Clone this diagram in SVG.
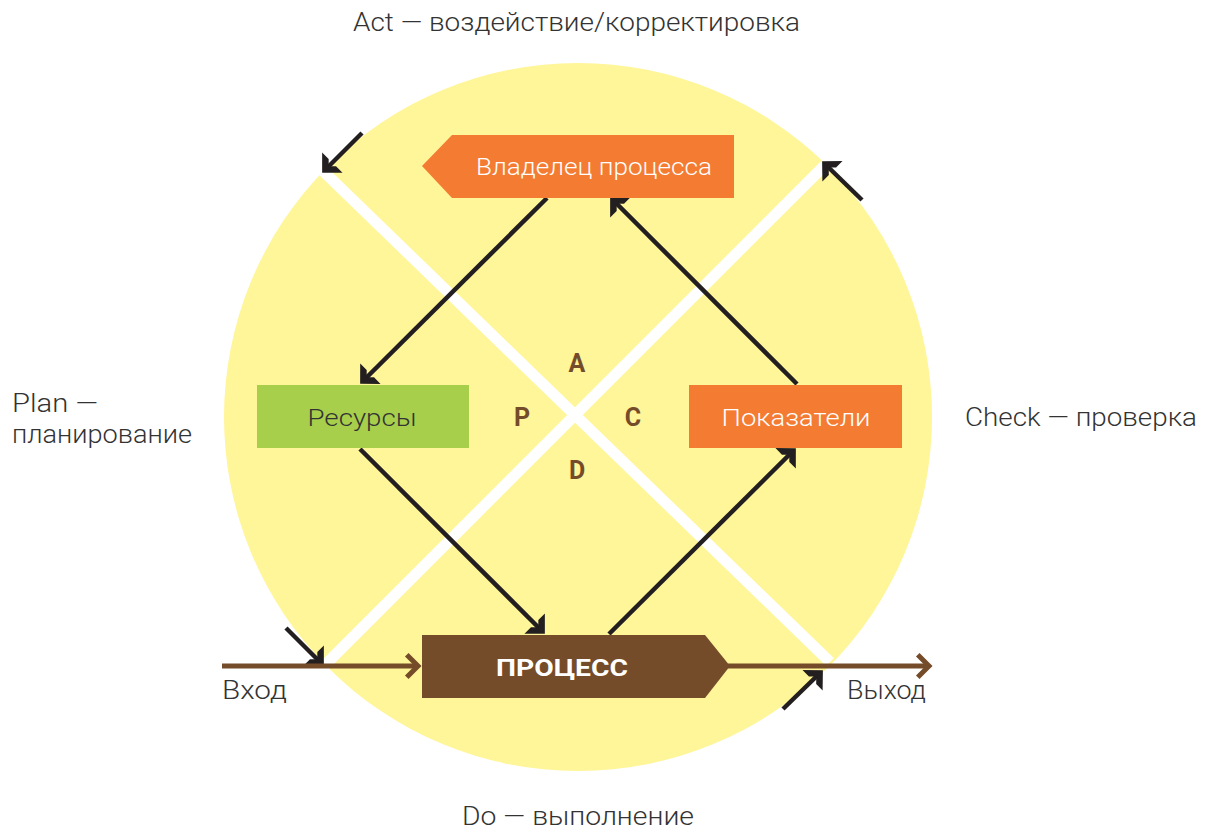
<svg xmlns="http://www.w3.org/2000/svg" width="1208" height="829" viewBox="0 0 1208 829">
<defs>
<style>
.lbl{font-family:Roboto,"Liberation Sans",sans-serif;font-weight:300;font-size:25px;fill:#333333}
.ntxt{font-family:Roboto,"Liberation Sans",sans-serif;font-weight:300;font-size:24px}
.pdca{font-family:Roboto,"Liberation Sans",sans-serif;font-weight:700;font-size:25px;fill:#754C29;text-anchor:middle}
.conn{stroke:#231F20;stroke-width:4.5;fill:none;marker-end:url(#ah)}
.flow{stroke:#754C29;stroke-width:5;fill:none;marker-end:url(#bh)}
.band{stroke:#FFFFFF;stroke-width:11;fill:none}
</style>
<marker id="ah" markerUnits="userSpaceOnUse" markerWidth="20" markerHeight="30" viewBox="-10 -13 15 26" refX="0" refY="0" orient="auto" overflow="visible">
<polygon points="3.5,0 -9,-12.5 -9,-4.5 -4.5,0 -9,4.5 -9,12.5" fill="#231F20"/>
</marker>
<marker id="bh" markerUnits="userSpaceOnUse" markerWidth="20" markerHeight="30" viewBox="-12 -12 16 24" refX="0" refY="0" orient="auto" overflow="visible">
<path d="M-9,-9 L0,0 L-9,9" fill="none" stroke="#754C29" stroke-width="4"/>
</marker>
</defs>
<rect width="1208" height="829" fill="#FFFFFF"/>
<g id="background">
<circle cx="578" cy="417" r="354" fill="#FFF599"/>
<line class="band" x1="322" y1="170" x2="830" y2="662"/>
<line class="band" x1="825" y1="165" x2="325" y2="665"/>
</g>
<g id="connectors">
<line class="conn" x1="547" y1="198" x2="363" y2="381"/>
<line class="conn" x1="797" y1="384" x2="613" y2="200"/>
<line class="conn" x1="360" y1="449" x2="542" y2="631"/>
<line class="conn" x1="609" y1="634" x2="793" y2="451"/>
<line class="conn" x1="362" y1="133" x2="325" y2="170"/>
<line class="conn" x1="862" y1="200" x2="825" y2="164"/>
<line class="conn" x1="286" y1="628" x2="321" y2="663"/>
<line class="conn" x1="783" y1="709" x2="820" y2="673"/>
<line class="flow" x1="222" y1="666" x2="418" y2="666"/>
<line class="flow" x1="728" y1="666" x2="929" y2="666"/>
</g>
<g id="node-owner">
<polygon points="422,166 452,135 734,135 734,198 452,198" fill="#F47B32"/>
<text class="ntxt" x="594" y="175" text-anchor="middle" fill="#FFFFFF" textLength="236" lengthAdjust="spacingAndGlyphs">Владелец процесса</text>
</g>
<g id="node-resources">
<rect x="257" y="385" width="212" height="63" fill="#A8CF4C"/>
<text class="ntxt" x="362" y="426" text-anchor="middle" fill="#333333" textLength="109" lengthAdjust="spacingAndGlyphs">Ресурсы</text>
</g>
<g id="node-indicators">
<rect x="689" y="385" width="213" height="63" fill="#F47B32"/>
<text class="ntxt" x="796" y="426" text-anchor="middle" fill="#FFFFFF" textLength="149" lengthAdjust="spacingAndGlyphs">Показатели</text>
</g>
<g id="node-process">
<polygon points="422,635 705,635 730,666 705,698 422,698" fill="#754C29"/>
<text x="562" y="676" text-anchor="middle" fill="#FFFFFF" font-family="Roboto, 'Liberation Sans', sans-serif" font-weight="700" font-size="24" textLength="132" lengthAdjust="spacingAndGlyphs">ПРОЦЕСС</text>
</g>
<g id="pdca-letters">
<text class="pdca" x="577" y="372">A</text>
<text class="pdca" x="522" y="426">P</text>
<text class="pdca" x="633" y="426">C</text>
<text class="pdca" x="577" y="479">D</text>
</g>
<g id="labels">
<text class="lbl" x="353" y="31" textLength="447" lengthAdjust="spacingAndGlyphs">Act — воздействие/корректировка</text>
<text class="lbl" x="12" y="412" textLength="86" lengthAdjust="spacingAndGlyphs">Plan —</text>
<text class="lbl" x="12" y="443" textLength="180" lengthAdjust="spacingAndGlyphs">планирование</text>
<text class="lbl" x="965" y="426" textLength="232" lengthAdjust="spacingAndGlyphs">Check — проверка</text>
<text class="lbl" x="462" y="825" textLength="232" lengthAdjust="spacingAndGlyphs">Do — выполнение</text>
<text class="lbl" x="222" y="699" textLength="65" lengthAdjust="spacingAndGlyphs">Вход</text>
<text class="lbl" x="847" y="699" textLength="79" lengthAdjust="spacingAndGlyphs">Выход</text>
</g>
</svg>
